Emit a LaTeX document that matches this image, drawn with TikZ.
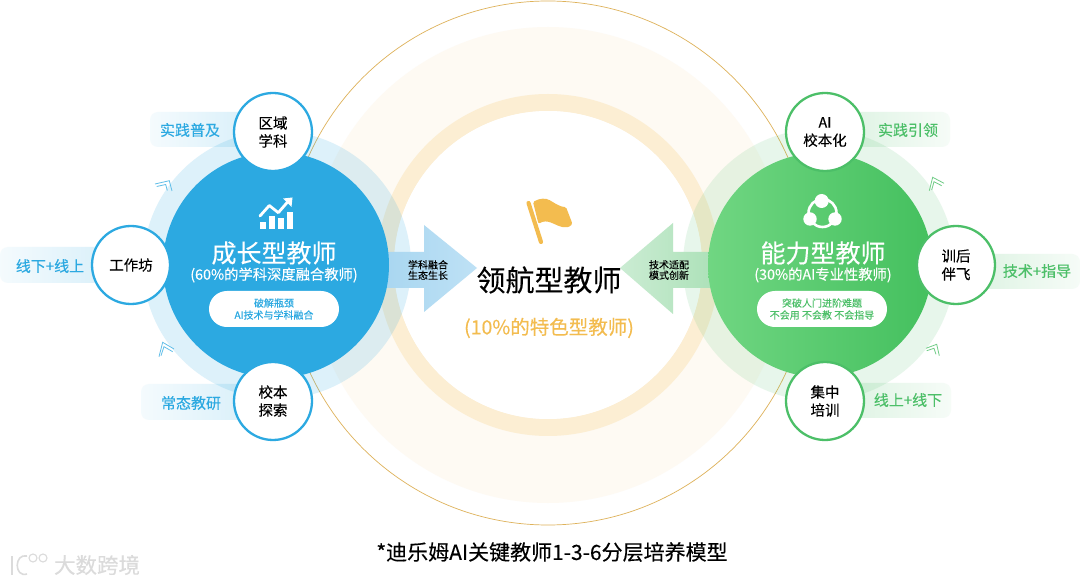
\documentclass[tikz,border=0pt]{standalone}
\usepackage{fontspec}
\setmainfont[FakeBold=0.25]{Noto Sans CJK SC}
\definecolor{bluemain}{HTML}{2CA9E1}
\definecolor{greenmain}{HTML}{4CBF68}
\definecolor{goldmain}{HTML}{F3BC4F}
\definecolor{arrowblueA}{HTML}{A8D6F0}
\definecolor{arrowblueB}{HTML}{BEE1F5}
\definecolor{arrowgreenA}{HTML}{ACE1B8}
\definecolor{arrowgreenB}{HTML}{CBECD3}
\definecolor{greenA}{HTML}{70D682}
\definecolor{greenB}{HTML}{44C05E}
\tikzset{
  x=1pt,y=-1pt,
  smallblue/.style={circle,draw=bluemain,line width=2.3pt,fill=white,minimum size=78pt,inner sep=0pt,align=center,text=black,font=\fontsize{14.5}{18}\selectfont},
  smallgreen/.style={smallblue,draw=greenmain},
  tagtext/.style={font=\fontsize{15}{18}\selectfont,inner sep=0pt},
  tagblue/.style={rounded corners=8pt,draw=none,left color=bluemain!5,right color=bluemain!18},
  taggreen/.style={rounded corners=8pt,draw=none,left color=greenmain!18,right color=greenmain!5},
  titletext/.style={font=\fontsize{25}{28}\selectfont,text=white,inner sep=0pt},
  subtext/.style={font=\fontsize{14.3}{16}\selectfont,text=white,inner sep=0pt},
  pill/.style={rectangle,rounded corners=17.9pt,fill=white,minimum width=130pt,minimum height=36pt,inner sep=0pt,align=center,font=\fontsize{10}{12}\selectfont},
  arrowlabel/.style={font=\fontsize{10}{10.5}\selectfont,align=center,text=black,inner sep=0pt},
  chevblue/.style={draw=bluemain!75,line width=.8pt},
  chevgreen/.style={draw=greenmain!80,line width=.8pt},
  iconline/.style={draw=white,line width=2.8pt,line cap=round,line join=round},
}
\begin{document}
\begin{tikzpicture}
\useasboundingbox (0,0) rectangle (1080,585);
\fill[white] (0,0) rectangle (1080,585);
% centre circles
\fill[goldmain!7] (548,265) circle (238);
\fill[goldmain!25,even odd rule] (548,265) circle (171) (548,265) circle (154);
\fill[white] (548,265) circle (154);
\draw[goldmain!90!black!90,line width=.7pt] (548,263) circle (262);
% tags
\path[tagblue] (150,112) rectangle (250,147);
\path[tagblue] (0,247) rectangle (110,283);
\path[tagblue] (141,384) rectangle (250,420);
\path[taggreen] (850,112) rectangle (950,147);
\path[taggreen] (980,254) rectangle (1080,289);
\path[taggreen] (850,383) rectangle (951,418);
% rings
\fill[bluemain,opacity=.16] (277,265) circle (134);
\fill[greenmain,opacity=.13] (819,265) circle (136);
% arrows
\shade[left color=arrowblueA,right color=arrowblueB] (380,252) -- (424,252) -- (424,225) -- (477,268) -- (424,312) -- (424,288) -- (380,288) -- cycle;
\shade[left color=arrowgreenB,right color=arrowgreenA] (716,252) -- (673,252) -- (673,223) -- (620,268) -- (673,314) -- (673,288) -- (716,288) -- cycle;
% main circles
\fill[bluemain] (276,265) circle (113);
\shade[left color=greenA,right color=greenB] (820,265) circle (112);
% icons
\foreach \xa/\xb/\yt in {260/266/222.3,268.7/275/216,278/284/218.3,286.7/293/211.7}
  \fill[white] (\xa,\yt) rectangle (\xb,229.5);
\draw[iconline] (260,216) -- (269.3,205.5) -- (278.3,212.7) -- (288,201.5);
\fill[white] (283,198.5) -- (292.5,197.5) -- (291.5,207) -- cycle;
\draw[white,line width=2.6pt] (822.5,213) circle (14);
\fill[white] (821.7,201) circle (7) (810,219) circle (6.7) (835,219) circle (6.7);
\fill[goldmain,rounded corners=1.5pt] (533,202) .. controls (540,198) and (546,198) .. (551,201) .. controls (556,204) and (561,207) .. (566,207) -- (572.5,224) .. controls (566,230) and (559,226) .. (552,223) .. controls (547,221) and (543,221) .. (538.5,224) -- cycle;
\draw[goldmain,line width=4.2pt,line cap=round] (528.5,203) -- (541,242);
% chevrons
\draw[chevblue] (155,184) -- (169.3,180.7) -- (172,191);
\draw[chevblue] (156.7,186.5) -- (165.7,184.5) -- (167.3,190.5);
\draw[chevblue] (159,356.7) -- (162.7,342.3) -- (174,349);
\draw[chevblue] (161,355.7) -- (164,346.7) -- (172.7,351.7);
\draw[chevgreen] (929.3,190.7) -- (932.7,177.3) -- (944,183.3);
\draw[chevgreen] (931.7,190) -- (934,181.7) -- (941.7,185.7);
\draw[chevgreen] (926,348.3) -- (936.7,344.3) -- (939.3,355.7);
\draw[chevgreen] (926.7,350.7) -- (934,348.3) -- (936,354.3);
% small circles
\node[smallblue] (quyu) at (273,132) {区域\\学科};
\node[smallblue] (gzf) at (131,265) {工作坊};
\node[smallblue] (xbts) at (273,401) {校本\\探索};
\node[smallgreen] (aix) at (825,132) {AI\\校本化};
\node[smallgreen] (xhbf) at (956,265) {训后\\伴飞};
\node[smallgreen] (jzpx) at (825,401) {集中\\培训};
% tag texts
\node[tagtext,text=bluemain] (t1) at (190,130) {实践普及};
\node[tagtext,text=bluemain] (t2) at (50,266) {线下+线上};
\node[tagtext,text=bluemain] (t3) at (191,403) {常态教研};
\node[tagtext,text=greenmain] (t4) at (908,130) {实践引领};
\node[tagtext,text=greenmain] (t5) at (1037,271) {技术+指导};
\node[tagtext,text=greenmain] (t6) at (908,400) {线上+线下};
% main texts
\node[titletext] (czt) at (274,253) {成长型教师};
\node[subtext] (czs) at (274,275) {(60\%的学科深度融合教师)};
\node[pill,text=bluemain] (czp) at (274,309) {破解瓶颈\\AI技术与学科融合};
\node[titletext] (nlt) at (823,253) {能力型教师};
\node[subtext] (nls) at (823,275) {(30\%的AI专业性教师)};
\node[pill,text=greenmain] (nlp) at (822,309) {突破人门进阶难题\\不会用 不会教 不会指导};
% arrow labels
\node[arrowlabel] (al) at (428,270) {学科融合\\生态生长};
\node[arrowlabel] (ar) at (669,270) {技术适配\\模式创新};
% centre
\node[inner sep=0pt,text=black,font=\fontsize{29}{32}\selectfont] (lh) at (549,280) {领航型教师};
\node[inner sep=0pt,text=goldmain,font=\fontsize{19.5}{22}\selectfont] (lhs) at (549,328) {(10\%的特色型教师)};
% caption
\node[inner sep=0pt,text=black,font=\fontsize{21}{24}\selectfont] (cap) at (552,552) {*迪乐姆AI关键教师1-3-6分层培养模型};
% watermark
\node[inner sep=0pt,text=black!14,font=\fontsize{21.5}{24}\selectfont] (wm) at (97,565) {大数跨境};
\draw[black!14,line width=1.6pt] (12,556) -- (12,575);
\draw[black!14,line width=1.6pt] (27,556) .. controls (14,553) and (14,578) .. (27,574);
\draw[black!14,line width=1.1pt] (33,558) circle (4) (43,558) circle (4);
\end{tikzpicture}
\end{document}
